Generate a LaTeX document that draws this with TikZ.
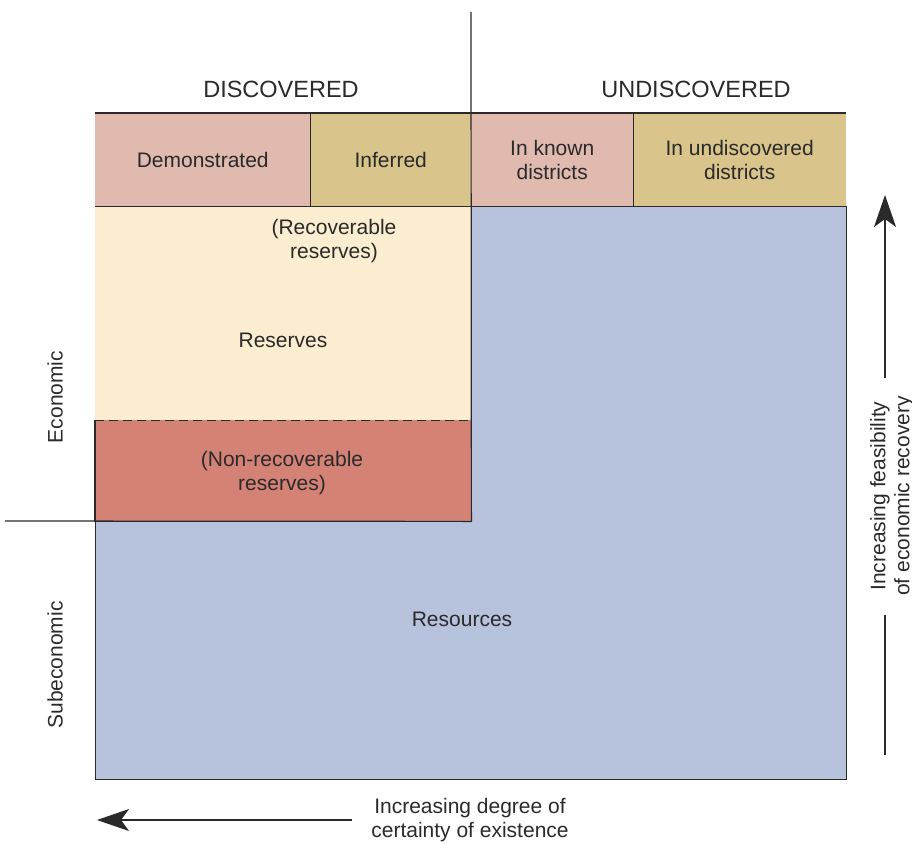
\documentclass[tikz,border=0pt]{standalone}
\usepackage{fontspec}
\setmainfont{Liberation Sans}
\usetikzlibrary{arrows.meta}

\definecolor{headpink}{HTML}{E0BAAE}
\definecolor{headtan}{HTML}{D9C48B}
\definecolor{rescream}{HTML}{FAEDD0}
\definecolor{nonrecred}{HTML}{D58276}
\definecolor{resblue}{HTML}{B7C2DC}
\definecolor{inkgray}{HTML}{2A2A2A}

\begin{document}
\begin{tikzpicture}[x=1pt,y=-1pt,>={Stealth[length=32pt,width=22pt,inset=8pt]},
    every node/.style={font=\fontsize{21}{24}\selectfont,align=center,inner sep=0pt,text=inkgray},
    rule/.style={draw=inkgray,line width=1.2pt},
    head/.style={anchor=north west,minimum height=93pt},
    area/.style={anchor=north west},
    side/.style={font=\fontsize{23.5}{26}\selectfont}]
  \useasboundingbox (0,0) rectangle (912,843);

  % big resource box with the discovered reserves on top
  \node[area,rule,fill=resblue,minimum width=751pt,minimum height=573pt] (res) at (95,206) {};
  \node[area,fill=rescream,minimum width=376pt,minimum height=214pt] (rsv) at (95,206) {};
  \node[area,fill=nonrecred,minimum width=376pt,minimum height=101pt] (nonrec) at (95,420) {};
  \draw[rule] (nonrec.north west) -- (nonrec.south west) -- (nonrec.south east) -- (nonrec.north east);
  \draw[rule,dash pattern=on 9pt off 5pt] (rsv.south west) -- (rsv.south east);

  % header row
  \node[head,fill=headpink,minimum width=215pt] (dem) at (95,113) {Demonstrated};
  \node[head,fill=headtan,minimum width=161pt] (inf) at (310,113) {Inferred};
  \node[head,fill=headpink,minimum width=162pt] (known) at (471,113) {In known\\districts};
  \node[head,fill=headtan,minimum width=213pt] (undis) at (633,113) {In undiscovered\\districts};
  \draw[rule] (dem.north west) -- (undis.north east);
  \draw[rule] (dem.south west) -- (undis.south east);
  \draw[rule] (dem.north east) -- (dem.south east);
  \draw[rule] (known.north east) -- (known.south east);

  \node[side] (disc) at (281,89) {DISCOVERED};
  \node[side] (undisc) at (696,89) {UNDISCOVERED};

  % dividing lines
  \coordinate (divtop) at (471,12);
  \coordinate (divleft) at (5,521);
  \draw[rule] (divtop) -- (nonrec.south east);
  \draw[rule] (divleft) -- (nonrec.south east);

  % labels inside the boxes
  \node (recov) at (334,241) {(Recoverable\\reserves)};
  \node (reserves) at (283,340) {Reserves};
  \node (nonrecov) at (282,473) {(Non-recoverable\\reserves)};
  \node (resources) at (462,619) {Resources};

  \node[rotate=90] (econ) at (55,397) {Economic};
  \node[rotate=90] (subecon) at (55,665) {Subeconomic};

  % axis arrows
  \coordinate (xtail) at (352,820);
  \coordinate (xhead) at (97,820);
  \draw[rule,->] (xtail) -- (xhead);
  \node (certainty) at (470,820) {Increasing degree of\\certainty of existence};

  \coordinate (ytail) at (885,378);
  \coordinate (yhead) at (885,195);
  \coordinate (ymid) at (885,615);
  \coordinate (ylow) at (885,755);
  \draw[rule,->] (ytail) -- (yhead);
  \draw[rule] (ymid) -- (ylow);
  \node[rotate=90] (feasible) at (892,496) {Increasing feasibility\\of economic recovery};
\end{tikzpicture}
\end{document}
